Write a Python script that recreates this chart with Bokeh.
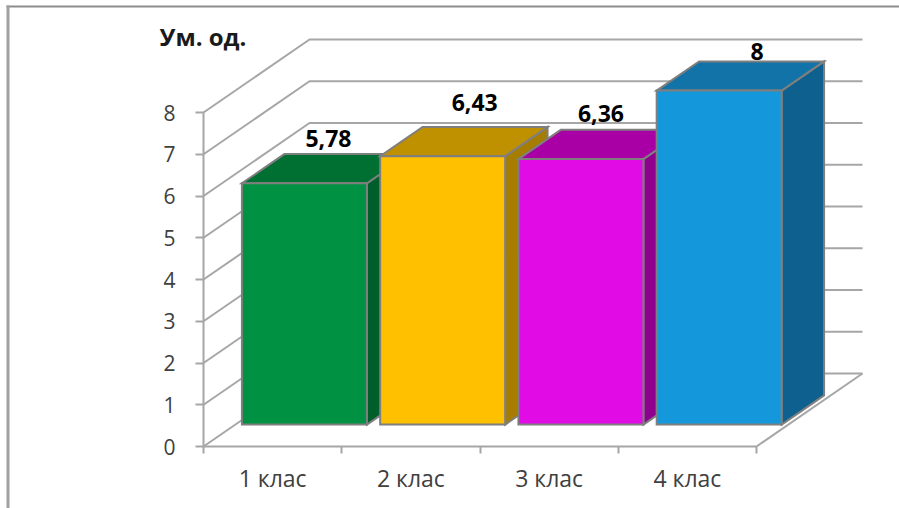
from bokeh.embed import file_html
from bokeh.models import BoxAnnotation, ColumnDataSource, FixedTicker, Label, LinearAxis, Range1d
from bokeh.plotting import figure
from bokeh.resources import INLINE
from bokeh.core.properties import value

# Chart values
classes = ["1 клас", "2 клас", "3 клас", "4 клас"]
scores = [5.78, 6.43, 6.36, 8]
score_labels = ["5,78", "6,43", "6,36", "8"]
value_ticks = [0, 1, 2, 3, 4, 5, 6, 7, 8]

# Bar colours
front_colors = ["#009242", "#FFC000", "#E10BE5", "#1498DB"]
top_colors = ["#006F32", "#BF9000", "#A900A5", "#1173A7"]
side_colors = ["#005E2A", "#A67D00", "#8F008F", "#0E608F"]

# Pixels per data unit on each axis, and where the origin sits on the page
W, H = 899, 508
ORIGIN_X, ORIGIN_Y = 203, 446
PX_PER_CLASS = 138.25
PX_PER_UNIT = 41.75

# The oblique projection: one full depth of the box shifts by this much in data units
DEPTH_X = 106 / PX_PER_CLASS
DEPTH_Y = 73 / PX_PER_UNIT
BAR_WIDTH = 125 / PX_PER_CLASS
BAR_NEAR = 0.30
BAR_FAR = 0.70

# Hand placement of the value labels relative to each bar's front-top centre (px)
label_dx = [24, 32, 20, 38]
label_dy = [45, 54, 46, 39]


def at_depth(x, y, d):
    """Project a point of the front plane back to depth d (0..1)."""
    return x + d * DEPTH_X, y + d * DEPTH_Y


def poly(points):
    xs, ys = zip(*points)
    return list(xs), list(ys)


# The frame fills the page, so nothing drawn left of the value axis gets clipped
p = figure(
    width=W,
    height=H,
    x_range=Range1d(-ORIGIN_X / PX_PER_CLASS, (W - ORIGIN_X) / PX_PER_CLASS),
    y_range=Range1d(-(H - ORIGIN_Y) / PX_PER_UNIT, ORIGIN_Y / PX_PER_UNIT),
    output_backend="svg",
    toolbar_location=None,
    x_axis_location=None,
    y_axis_location=None,
    min_border=0,
    outline_line_color=None,
    background_fill_color="white",
    border_fill_color="white",
)
p.grid.visible = False

# Value axis on the front-left edge
y_axis = LinearAxis(
    fixed_location=0,
    ticker=FixedTicker(ticks=value_ticks),
    bounds=(0, 8),
    axis_line_color="#A6A6A6",
    axis_line_width=2,
    major_tick_line_color="#A6A6A6",
    major_tick_line_width=2,
    major_tick_in=0,
    major_tick_out=8,
    minor_tick_in=0,
    minor_tick_out=0,
    major_label_standoff=20,
    major_label_text_font="Open Sans",
    major_label_text_font_size="21px",
    major_label_text_color="#404040",
)
p.add_layout(y_axis, "left")

# Category axis: labels sit mid-slot, tick marks fall between the slots
x_axis = LinearAxis(
    fixed_location=0,
    ticker=FixedTicker(
        ticks=[i + 0.5 for i in range(len(classes))],
        minor_ticks=list(range(len(classes) + 1)),
    ),
    bounds=(0, len(classes)),
    major_label_overrides={i + 0.5: name for i, name in enumerate(classes)},
    axis_line_color="#A6A6A6",
    axis_line_width=2,
    major_tick_in=0,
    major_tick_out=0,
    minor_tick_line_color="#A6A6A6",
    minor_tick_line_width=2,
    minor_tick_in=0,
    minor_tick_out=7,
    major_label_standoff=8,
    major_label_text_font="Open Sans",
    major_label_text_font_size="23px",
    major_label_text_color="#404040",
)
p.add_layout(x_axis, "below")

# Gridlines running up the side wall and along the back wall
span = len(classes)
for v in value_ticks:
    bx, by = at_depth(0, v, 1)
    ex, ey = at_depth(span, v, 1)
    p.line([0, bx, ex], [v, by, ey], line_color="#A6A6A6", line_width=2)

# Right-hand edge of the floor
fx, fy = at_depth(span, 0, 1)
p.line([span, fx], [0, fy], line_color="#A6A6A6", line_width=2)

# Bars as three faces each, painted left to right so nearer faces overlap
for i, score in enumerate(scores):
    left = i + 0.5 - BAR_WIDTH / 2
    right = i + 0.5 + BAR_WIDTH / 2
    side = poly([at_depth(right, 0, BAR_NEAR), at_depth(right, 0, BAR_FAR),
                 at_depth(right, score, BAR_FAR), at_depth(right, score, BAR_NEAR)])
    top = poly([at_depth(left, score, BAR_NEAR), at_depth(right, score, BAR_NEAR),
                at_depth(right, score, BAR_FAR), at_depth(left, score, BAR_FAR)])
    front = poly([at_depth(left, 0, BAR_NEAR), at_depth(right, 0, BAR_NEAR),
                  at_depth(right, score, BAR_NEAR), at_depth(left, score, BAR_NEAR)])
    for (xs, ys), color in ((side, side_colors[i]), (top, top_colors[i]), (front, front_colors[i])):
        p.patch(xs, ys, fill_color=color, line_color="#7F7F7F", line_width=2, line_join="miter")

# Value labels above the bars
lx, ly = zip(*(at_depth(i + 0.5, s, BAR_NEAR) for i, s in enumerate(scores)))
source = ColumnDataSource(dict(
    x=list(lx), y=list(ly), text=score_labels,
    dx=label_dx, dy=[-d for d in label_dy],
))
p.text(
    "x", "y", text="text", source=source,
    x_offset="dx", y_offset="dy",
    text_align="center", text_baseline="middle",
    text_font=value("Open Sans"), text_font_style="bold",
    text_font_size="23px", text_color="black",
)

# Unit caption above the value axis
p.add_layout(Label(
    x=159, y=36, x_units="canvas", y_units="canvas", text="Ум. од.",
    text_font="Open Sans", text_font_style="bold", text_font_size="24px",
    text_color="#1A1A1A", text_baseline="middle",
))

# Thin frame along the top and left of the page
p.add_layout(BoxAnnotation(
    left=6, right=W, top=5, bottom=7,
    left_units="canvas", right_units="canvas", top_units="canvas", bottom_units="canvas",
    fill_color="#8C8C8C", fill_alpha=1, line_color=None,
))
p.add_layout(BoxAnnotation(
    left=6, right=9, top=5, bottom=H,
    left_units="canvas", right_units="canvas", top_units="canvas", bottom_units="canvas",
    fill_color="#A0A0A0", fill_alpha=1, line_color=None,
))

open("out.html", "w").write(file_html(p, INLINE))
